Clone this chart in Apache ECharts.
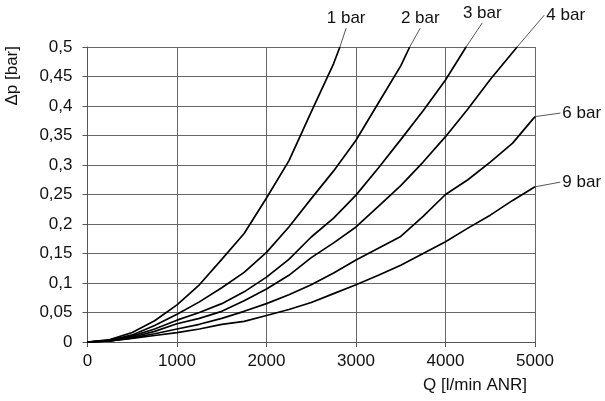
<!DOCTYPE html>
<html>
<head>
<meta charset="utf-8">
<script src="https://cdn.jsdelivr.net/npm/echarts@6/dist/echarts.min.js"></script>
<style>
html,body{margin:0;padding:0;background:#fff;}
#chart{width:605px;height:401px;}
</style>
</head>
<body>
<div id="chart"></div>
<script>
// ---- data ----
const seriesNames = ['1 bar', '2 bar', '3 bar', '4 bar', '6 bar', '9 bar'];

const q1 = [0, 250, 500, 750, 1000, 1250, 1500, 1750, 2000, 2250, 2500, 2750, 2820];
const dp1 = [0, 0.004, 0.016, 0.036, 0.063, 0.097, 0.140, 0.184, 0.244, 0.307, 0.390, 0.472, 0.5];

const q2 = [0, 250, 500, 750, 1000, 1250, 1500, 1750, 2000, 2250, 2500, 2750, 3000, 3250, 3500, 3600];
const dp2 = [0, 0.003, 0.012, 0.028, 0.047, 0.068, 0.092, 0.118, 0.152, 0.195, 0.243, 0.290, 0.342, 0.405, 0.468, 0.5];

const q3 = [0, 250, 500, 750, 1000, 1250, 1500, 1750, 2000, 2250, 2500, 2750, 3000, 3250, 3500, 3750, 4000, 4230];
const dp3 = [0, 0.002, 0.010, 0.022, 0.037, 0.050, 0.065, 0.085, 0.110, 0.140, 0.178, 0.210, 0.249, 0.295, 0.343, 0.392, 0.444, 0.5];

const q4 = [0, 250, 500, 750, 1000, 1250, 1500, 1750, 2000, 2250, 2500, 2750, 3000, 3250, 3500, 3750, 4000, 4250, 4500, 4800];
const dp4 = [0, 0.002, 0.008, 0.018, 0.031, 0.040, 0.052, 0.070, 0.090, 0.113, 0.143, 0.168, 0.195, 0.230, 0.265, 0.305, 0.348, 0.395, 0.445, 0.5];

const q6 = [0, 250, 500, 750, 1000, 1250, 1500, 1750, 2000, 2250, 2500, 2750, 3000, 3250, 3500, 3750, 4000, 4250, 4500, 4750, 5000];
const dp6 = [0, 0.002, 0.007, 0.014, 0.022, 0.030, 0.040, 0.052, 0.065, 0.080, 0.097, 0.117, 0.139, 0.159, 0.179, 0.213, 0.250, 0.275, 0.305, 0.337, 0.382];

const q9 = [0, 250, 500, 750, 1000, 1250, 1500, 1750, 2000, 2250, 2500, 2750, 3000, 3250, 3500, 3750, 4000, 4250, 4500, 4750, 5000];
const dp9 = [0, 0.002, 0.006, 0.011, 0.016, 0.022, 0.030, 0.035, 0.045, 0.055, 0.067, 0.082, 0.097, 0.113, 0.130, 0.150, 0.170, 0.193, 0.215, 0.240, 0.263];

// label anchor points (data coords, outside the plot) where the leader lines end
const labelAnchorQ = [2890, 3718, 4411, 5104, 5283, 5283];
const labelAnchorDp = [0.532, 0.532, 0.541, 0.554, 0.388, 0.271];
const labelSide = ['top', 'top', 'top', 'right', 'right', 'right'];

const xTicks = [0, 1000, 2000, 3000, 4000, 5000];
const yTicks = [0, 0.05, 0.1, 0.15, 0.2, 0.25, 0.3, 0.35, 0.4, 0.45, 0.5];
const xTitle = 'Q [l/min ANR]';
const yTitle = 'Δp [bar]';

// ---- build ----
const qs = [q1, q2, q3, q4, q6, q9];
const dps = [dp1, dp2, dp3, dp4, dp6, dp9];
const FONT = 'Liberation Sans, Arial, sans-serif';
const FS = 17;

const series = qs.map((q, i) => ({
  name: seriesNames[i],
  type: 'line',
  data: q.map((v, j) => [v, dps[i][j]]),
  showSymbol: false,
  smooth: false,
  clip: false,
  lineStyle: {color: '#000', width: 1.7},
  z: 5
}));

const chart = echarts.init(document.getElementById('chart'), null, {renderer: 'canvas'});
chart.setOption({
  animation: false,
  backgroundColor: '#fff',
  grid: {left: 87.5, right: 70, top: 47, bottom: 59},
  xAxis: {
    type: 'value', min: 0, max: 5000, interval: 1000,
    name: xTitle, nameLocation: 'end', nameGap: 0,
    nameTextStyle: {align: 'right', verticalAlign: 'top', padding: [35, 8, 0, 0], fontSize: FS, color: '#111', fontFamily: FONT},
    axisLine: {show: true, lineStyle: {color: '#555', width: 1}},
    axisTick: {show: true, inside: false, length: 5, lineStyle: {color: '#555'}},
    axisLabel: {margin: 11, fontSize: FS, color: '#111', fontFamily: FONT,
                formatter: v => xTicks.includes(v) ? String(v) : ''},
    splitLine: {show: true, lineStyle: {color: '#666', width: 1}}
  },
  yAxis: {
    type: 'value', min: 0, max: 0.5, interval: 0.05,
    axisLine: {show: true, lineStyle: {color: '#555', width: 1}},
    axisTick: {show: true, inside: false, length: 5, lineStyle: {color: '#555'}},
    axisLabel: {margin: 15, fontSize: FS, color: '#111', fontFamily: FONT,
                formatter: v => {
                  const t = yTicks.find(y => Math.abs(y - v) < 1e-9);
                  return t === undefined ? '' : String(+t.toFixed(2)).replace('.', ',');
                }},
    splitLine: {show: true, lineStyle: {color: '#666', width: 1}}
  },
  series: series
});

// leader lines + labels positioned through the chart's own scales
const graphics = [];
qs.forEach((q, i) => {
  const last = q.length - 1;
  const p0 = chart.convertToPixel({gridIndex: 0}, [q[last], dps[i][last]]);
  const p1 = chart.convertToPixel({gridIndex: 0}, [labelAnchorQ[i], labelAnchorDp[i]]);
  graphics.push({
    type: 'line', silent: true, z: 10,
    shape: {x1: p0[0], y1: p0[1], x2: p1[0], y2: p1[1]},
    style: {stroke: '#444', lineWidth: 0.9}
  });
  const top = labelSide[i] === 'top';
  graphics.push({
    type: 'text', silent: true, z: 10,
    x: top ? p1[0] : p1[0] + 2,
    y: top ? p1[1] - 1 : p1[1],
    style: {
      text: seriesNames[i], fill: '#111', fontSize: FS, fontFamily: FONT,
      align: top ? 'center' : 'left',
      verticalAlign: top ? 'bottom' : 'middle'
    }
  });
});
// rotated y-axis title, its end aligned with the top of the plot
const yTop = chart.convertToPixel({gridIndex: 0}, [0, 0.5]);
graphics.push({
  type: 'text', silent: true, z: 10,
  x: 12, y: yTop[1] - 1, rotation: Math.PI / 2,
  style: {text: yTitle, fill: '#111', fontSize: FS, fontFamily: FONT, align: 'right', verticalAlign: 'middle'}
});
chart.setOption({graphic: graphics});
</script>
</body>
</html>
